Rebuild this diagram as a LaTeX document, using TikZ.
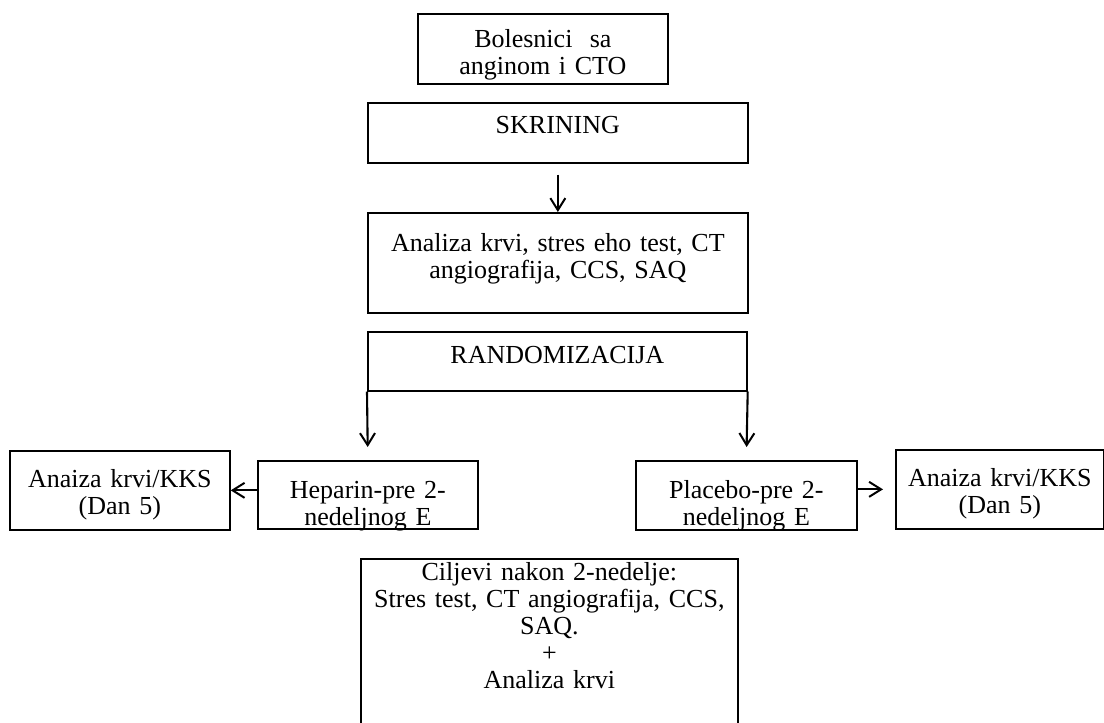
\documentclass[tikz,border=0pt]{standalone}
\usepackage{fontspec}
\setmainfont{Liberation Serif}
\usetikzlibrary{arrows.meta}

\begin{document}
\begin{tikzpicture}[
	x=1pt, y=-1pt,
	box/.style={
		draw,
		line width=1.7pt,
		anchor=north west,
		inner sep=0pt,
		align=center,
		font=\fontsize{26}{27}\selectfont
	},
	arrow/.style={-{Straight Barb[length=12pt,width=15pt,line width=2pt]}, line width=2.1pt}
	]

	\useasboundingbox (0,0) rectangle (1104,723);

	% ======================
	% Screening
	% ======================
	\node (pacijenti) [box, minimum width=250pt, text width=250pt, minimum height=70pt, text height=34pt, text depth=36pt] at (417,13) {Bolesnici\ \ sa\\anginom i CTO};
	\node (skrining) [box, minimum width=380pt, text width=380pt, minimum height=60pt, text height=31pt, text depth=29pt] at (367,102) {SKRINING};
	\node (analiza) [box, minimum width=380pt, text width=380pt, minimum height=100pt, text height=39pt, text depth=61pt] at (367,212) {Analiza krvi, stres eho test, CT\\angiografija, CCS, SAQ};

	\draw[arrow, shorten <=11pt] (skrining.south) -- (analiza.north);

	% ======================
	% Randomization
	% ======================
	\node (random) [box, minimum width=379pt, text width=379pt, minimum height=59pt, text height=32pt, text depth=27pt] at (367,331) {RANDOMIZACIJA};

	\node (heparin) [box, minimum width=220pt, text width=220pt, minimum height=68pt, text height=38pt, text depth=30pt] at (257,460) {Heparin-pre 2-\\nedeljnog E};
	\node (placebo) [box, minimum width=221pt, text width=221pt, minimum height=69pt, text height=38pt, text depth=31pt] at (635,460) {Placebo-pre 2-\\nedeljnog E};

	\draw[arrow, shorten >=13pt] (random.south west) -- (heparin.north);
	\draw[arrow, shorten >=13pt] (random.south east) -- (placebo.north);

	% Day 5 blood tests
	\node (krvL) [box, minimum width=220pt, text width=220pt, minimum height=79pt, text height=37pt, text depth=42pt] at (9,450) {Anaiza krvi/KKS\\(Dan 5)};
	\node (krvR) [box, minimum width=208pt, text width=208pt, minimum height=79pt, text height=37pt, text depth=42pt] at (895,449) {Anaiza krvi/KKS\\(Dan 5)};

	\draw[arrow] (heparin.west |- krvL.east) -- (krvL.east);
	\draw[arrow, shorten >=12pt] (placebo.east |- krvR.west) -- (krvR.west);

	% ======================
	% Endpoints
	% ======================
	\node (ciljevi) [box, minimum width=377pt, text width=377pt, minimum height=190pt, text height=22pt, text depth=168pt] at (360,558) {Ciljevi nakon 2-nedelje:\\Stres test, CT angiografija, CCS,\\SAQ.\\+\\Analiza krvi};

\end{tikzpicture}
\end{document}
